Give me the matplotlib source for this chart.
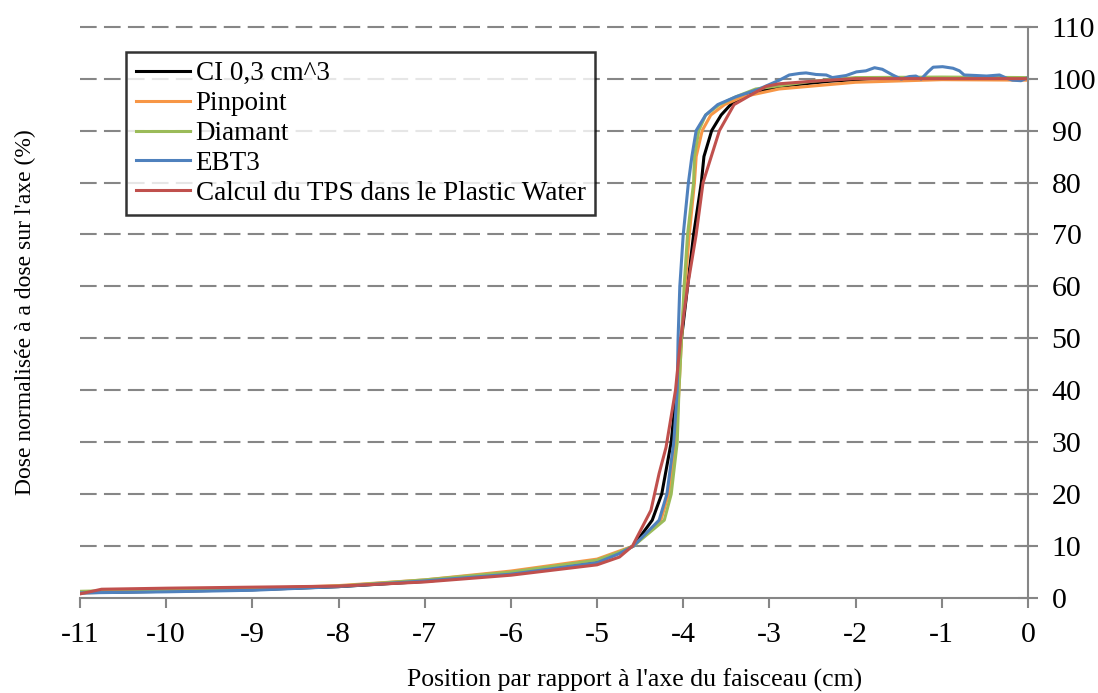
import numpy as np
import matplotlib.pyplot as plt

plt.rcParams['font.family'] = ['Liberation Serif', 'DejaVu Serif']
plt.rcParams['axes.unicode_minus'] = False

# CI 0,3 cm^3
x_ci = [-11, -10.7, -10, -9, -8, -7, -6, -5, -4.75, -4.58, -4.36, -4.25, -4.14, -4.08,
        -4.02, -3.95, -3.88, -3.79, -3.76, -3.67, -3.56, -3.45, -3.23, -2.89, -2.3, -1.8, -1, 0]
y_ci = [1.0, 1.1, 1.3, 1.6, 2.2, 3.2, 4.8, 7.0, 8.7, 10, 15, 20, 30, 40,
        50, 60, 70, 80, 85, 90, 93, 95, 97, 98.5, 99.5, 100, 100, 100]

# Pinpoint
x_pin = [-11, -10.7, -10, -9, -8, -7, -6, -5, -4.75, -4.58, -4.26, -4.17, -4.085, -4.05,
         -4.02, -3.98, -3.93, -3.87, -3.85, -3.78, -3.68, -3.52, -3.31, -2.89, -2, -1, 0]
y_pin = [1.2, 1.3, 1.4, 1.8, 2.4, 3.5, 5.2, 7.5, 9.0, 10, 15, 20, 30, 40,
         50, 60, 70, 80, 85, 90, 93, 95, 96.5, 98, 99.3, 99.8, 99.7]

# Diamant
x_dia = [-11, -10.7, -10, -9, -8, -7, -6, -5, -4.75, -4.58, -4.22, -4.14, -4.07, -4.05,
         -4.02, -3.99, -3.95, -3.88, -3.87, -3.82, -3.74, -3.58, -3.39, -3.16, -2.5, -2, -1, 0]
y_dia = [1.3, 1.4, 1.5, 1.8, 2.3, 3.5, 5.0, 7.3, 8.8, 10, 15, 20, 30, 40,
         50, 60, 70, 80, 85, 90, 93, 95, 96.5, 98, 99.5, 100.2, 100.3, 100.2]

# EBT3
x_ebt = [-11, -10, -9, -8, -7, -6, -5, -4.75, -4.58, -4.28, -4.19, -4.11, -4.07, -4.06,
         -4.04, -4.0, -3.94, -3.90, -3.85, -3.74, -3.60, -3.39, -3.12, -2.885,
         -2.77, -2.65, -2.575, -2.46, -2.34, -2.27, -2.11, -1.99, -1.88, -1.78, -1.69,
         -1.57, -1.47, -1.375, -1.30, -1.24, -1.16, -1.10, -0.99, -0.87, -0.795, -0.74,
         -0.60, -0.48, -0.33, -0.25, -0.18, -0.08, 0]
y_ebt = [1.0, 1.2, 1.5, 2.2, 3.3, 4.6, 6.8, 8.5, 10, 15, 20, 30, 40, 50,
         60, 70, 80, 85, 90, 93, 95, 96.5, 98, 99.7,
         100.7, 101.0, 101.1, 100.8, 100.7, 100.2, 100.6, 101.3, 101.5, 102.1, 101.8,
         100.7, 99.9, 100.4, 100.5, 99.9, 101.3, 102.2, 102.3, 102.0, 101.5, 100.7,
         100.6, 100.5, 100.7, 100.1, 99.7, 99.6, 100.2]

# Calcul du TPS dans le Plastic Water
x_tps = [-11, -10.75, -10, -9, -8, -7, -6, -5, -4.74, -4.59, -4.375, -4.28, -4.2, -4.14,
         -4.09, -4.03, -3.95, -3.85, -3.77, -3.58, -3.41, -3.2, -3.04, -2.89, -2.5, -2, -1, 0]
y_tps = [0.8, 1.7, 1.9, 2.1, 2.3, 3.1, 4.4, 6.4, 7.9, 10, 16.9, 24, 29, 35,
         40, 50, 60, 70, 80, 90, 95, 97, 98.5, 99, 99.5, 100, 100, 100]

labels = ['CI 0,3 cm^3', 'Pinpoint', 'Diamant', 'EBT3', 'Calcul du TPS dans le Plastic Water']
colors = ['#000000', '#F79646', '#9BBB59', '#4F81BD', '#C0504D']
series = [(x_ci, y_ci), (x_pin, y_pin), (x_dia, y_dia), (x_ebt, y_ebt), (x_tps, y_tps)]

fig = plt.figure(figsize=(10.98, 6.93), dpi=100)
ax = fig.add_axes([0.0729, 0.137, 0.8633, 0.8245])

grid_col = '#868686'
for yv in range(10, 111, 10):
    ax.axhline(yv, color=grid_col, lw=1.5, ls=(0, (8, 3.5)), zorder=0, clip_on=False,
               xmin=0.0, xmax=1.008)

for (xs, ys), lab, c in zip(series, labels, colors):
    ax.plot(xs, ys, color=c, lw=2.2, label=lab)

ax.set_xlim(-11, 0)
ax.set_ylim(0, 110)
ax.set_xticks(np.arange(-11, 1, 1))
ax.set_yticks(np.arange(0, 111, 10))
ax.yaxis.tick_right()

for s in ['left', 'top']:
    ax.spines[s].set_visible(False)
for s in ['right', 'bottom']:
    ax.spines[s].set_color(grid_col)
    ax.spines[s].set_linewidth(1.5)

ax.tick_params(axis='x', direction='out', length=7, width=1.5, color=grid_col,
               labelsize=21.5, pad=10)
ax.tick_params(axis='y', direction='inout', length=14, width=1.5, color=grid_col,
               labelsize=21.5, pad=10)

fig.text(0.578, 0.018, "Position par rapport à l'axe du faisceau (cm)", fontsize=18.5,
         ha='center', va='center')
fig.text(0.023, 0.55, "Dose normalisée à a dose sur l'axe (%)", rotation=90,
         fontsize=17, ha='center', va='center')

leg = ax.legend(loc='upper left', bbox_to_anchor=(0.049, 0.956), fontsize=19.5,
                frameon=True, fancybox=False, handlelength=2.0, handletextpad=0.2,
                borderpad=0.35, labelspacing=0.18, borderaxespad=0)
leg.get_frame().set_edgecolor('black')
leg.get_frame().set_linewidth(1.8)

fig.savefig('out.png', dpi=100)
